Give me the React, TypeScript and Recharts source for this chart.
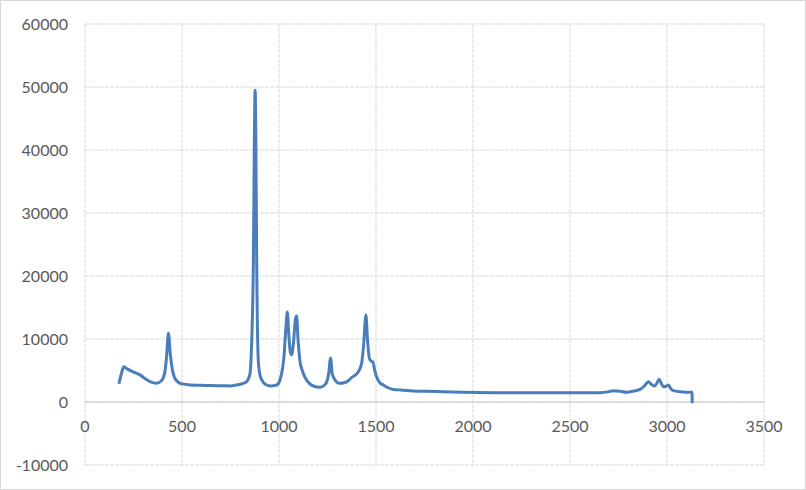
import { CartesianGrid, Line, LineChart, ReferenceLine, XAxis, YAxis } from 'recharts'

// Raman shift vs intensity
const shift = [
  175, 190, 200, 215, 240, 258, 283, 310, 335, 369, 395, 410, 420, 430, 440, 450, 460, 475, 490, 520,
  541, 600, 650, 700, 750, 780, 810, 833, 845, 851, 859, 868, 874, 877, 880, 885, 893, 900, 911, 930,
  954, 988, 1005, 1014, 1025, 1035, 1043, 1050, 1058, 1065, 1075, 1085, 1091, 1098, 1108, 1120, 1134, 1156, 1177, 1211,
  1235, 1246, 1256, 1266, 1274, 1284, 1300, 1314, 1340, 1357, 1375, 1395, 1409, 1426, 1436, 1448, 1456, 1466, 1475, 1483,
  1495, 1503, 1521, 1538, 1560, 1589, 1630, 1675, 1760, 1847, 1950, 2105, 2300, 2500, 2655, 2700, 2723, 2760, 2792, 2830,
  2861, 2885, 2904, 2920, 2935, 2948, 2960, 2970, 2981, 2995, 3007, 3020, 3033, 3067, 3100, 3129, 3130,
]
const intensity = [
  2900, 4800, 5600, 5300, 4900, 4650, 4300, 3700, 3250, 2980, 3400, 4500, 7000, 10900, 7500, 5200, 4000, 3300, 2960, 2800,
  2700, 2650, 2600, 2580, 2550, 2700, 2900, 3220, 3900, 4600, 9400, 22500, 45000, 49500, 44000, 22500, 6700, 4600, 3500, 2800,
  2550, 2700, 3500, 4600, 7000, 11500, 14300, 11000, 8000, 7500, 9500, 13200, 13650, 10000, 6500, 5000, 3900, 2960, 2540, 2330,
  2700, 3200, 4500, 7000, 4500, 3760, 3100, 2960, 3100, 3380, 3920, 4300, 4810, 6140, 9000, 13800, 10000, 6900, 6500, 6400,
  4800, 4000, 3000, 2700, 2300, 2000, 1900, 1800, 1700, 1640, 1550, 1480, 1450, 1450, 1480, 1650, 1800, 1700, 1550, 1750,
  2000, 2600, 3220, 2800, 2540, 3000, 3600, 3000, 2430, 2500, 2700, 2100, 1800, 1640, 1560, 1540, -200,
]

const xTicks = [0, 500, 1000, 1500, 2000, 2500, 3000, 3500]
const yTicks = [-10000, 0, 10000, 20000, 30000, 40000, 50000, 60000]

const data = shift.map((x, i) => ({ x, y: intensity[i] }))

const FONT = "Lato, 'Open Sans', sans-serif"
const TEXT = '#595959'
const GRID = '#d9d9d9'

// x labels sit just under the y=0 axis line, not at the bottom of the plot
const renderXTick = (props: any) => {
  const { x, y, payload } = props
  return (
    <text key={payload.value} x={x} y={y - 40} textAnchor="middle" dominantBaseline="central" fill={TEXT} fontSize={16} fontFamily={FONT}>
      {payload.value}
    </text>
  )
}

export default function App() {
  return (
    <div style={{ position: 'absolute', left: 0, top: 0, width: 806, height: 490, background: '#fff' }}>
      <LineChart width={806} height={490} data={data} margin={{ top: 24, right: 42, bottom: 5, left: 0 }}>
        <CartesianGrid stroke={GRID} strokeDasharray="4 1" />
        <XAxis
          dataKey="x"
          type="number"
          domain={[0, 3500]}
          ticks={xTicks}
          interval={0}
          height={20}
          axisLine={false}
          tickLine={false}
          tickSize={0}
          tickMargin={0}
          tick={renderXTick}
        />
        <YAxis
          type="number"
          domain={[-10000, 60000]}
          ticks={yTicks}
          width={85}
          axisLine={false}
          tickLine={false}
          tickSize={0}
          tickMargin={17}
          tick={{ fill: TEXT, fontSize: 16, fontFamily: FONT }}
        />
        <ReferenceLine y={0} stroke="#c6c6c6" strokeWidth={1} />
        <Line
          type="monotone"
          dataKey="y"
          stroke="#4a7ebb"
          strokeWidth={3}
          dot={false}
          isAnimationActive={false}
        />
      </LineChart>
      <div style={{ position: 'absolute', inset: 0, border: `1px solid ${GRID}`, pointerEvents: 'none' }} />
    </div>
  )
}
